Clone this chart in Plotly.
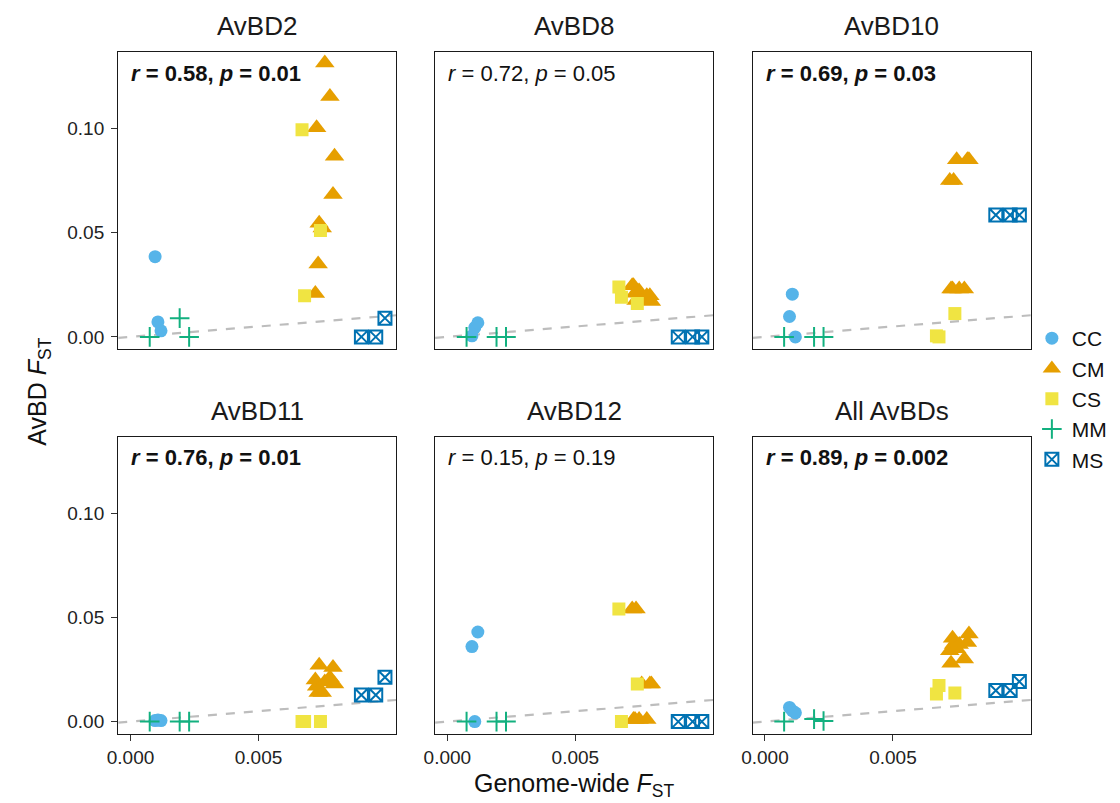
import plotly.graph_objects as go

# Panel names and correlation statistics
panels = ["AvBD2", "AvBD8", "AvBD10", "AvBD11", "AvBD12", "All AvBDs"]
corr_r = ["0.58", "0.72", "0.69", "0.76", "0.15", "0.89"]
corr_p = ["0.01", "0.05", "0.03", "0.01", "0.19", "0.002"]
significant = [True, False, True, True, False, True]

# Genome-wide FST of each population pair, grouped by comparison type
groups = ["CC", "CM", "CS", "MM", "MS"]
genome_fst = {
    "CC": [0.00096, 0.00107, 0.00119],
    "CM": [0.00722, 0.00727, 0.00733, 0.00737, 0.00749, 0.00759, 0.00779, 0.00791, 0.00797],
    "CS": [0.00670, 0.00680, 0.00742],
    "MM": [0.00075, 0.00192, 0.00229],
    "MS": [0.00902, 0.00958, 0.00994],
}

# AvBD FST per panel (same pair order as genome_fst)
avbd2 = {
    "CC": [0.0385, 0.0072, 0.0029],
    "CM": [0.0208, 0.1003, 0.0350, 0.0545, 0.0523, 0.1314, 0.1154, 0.0683, 0.0867],
    "CS": [0.0994, 0.0197, 0.0510],
    "MM": [0.0, 0.0090, 0.0],
    "MS": [0.0, 0.0, 0.0090],
}
avbd8 = {
    "CC": [0.0005, 0.0045, 0.0068],
    "CM": [0.0245, 0.0245, 0.0210, 0.0175, 0.0220, 0.0180, 0.0197, 0.0197, 0.0170],
    "CS": [0.0240, 0.0190, 0.0160],
    "MM": [0.0, 0.0, 0.0],
    "MS": [0.0, 0.0, 0.0],
}
avbd10 = {
    "CC": [0.0098, 0.0205, 0.0],
    "CM": [0.0750, 0.0230, 0.0230, 0.0750, 0.0850, 0.0230, 0.0230, 0.0850, 0.0850],
    "CS": [0.0005, 0.0, 0.0112],
    "MM": [0.0, 0.0, 0.0],
    "MS": [0.0585, 0.0585, 0.0585],
}
avbd11 = {
    "CC": [0.0005, 0.0008, 0.0005],
    "CM": [0.0200, 0.0170, 0.0140, 0.0270, 0.0140, 0.0190, 0.0210, 0.0260, 0.0180],
    "CS": [0.0, 0.0, 0.0],
    "MM": [0.0, 0.0, 0.0],
    "MS": [0.0128, 0.0128, 0.0213],
}
avbd12 = {
    "CC": [0.0360, 0.0, 0.0430],
    "CM": [0.0540, 0.0010, 0.0010, 0.0540, 0.0010, 0.0180, 0.0010, 0.0180, 0.0180],
    "CS": [0.0540, 0.0, 0.0180],
    "MM": [0.0, 0.0, 0.0],
    "MS": [0.0, 0.0, 0.0],
}
avbd_all = {
    "CC": [0.0068, 0.0052, 0.0042],
    "CM": [0.0340, 0.0280, 0.0400, 0.0370, 0.0350, 0.0370, 0.0300, 0.0380, 0.0420],
    "CS": [0.0133, 0.0173, 0.0137],
    "MM": [0.0, 0.0012, 0.0003],
    "MS": [0.0149, 0.0149, 0.0192],
}
panel_data = [avbd2, avbd8, avbd10, avbd11, avbd12, avbd_all]

x_ticks = [0.000, 0.005]
x_tick_text = ["0.000", "0.005"]
y_ticks = [0.00, 0.05, 0.10]
y_tick_text = ["0.00", "0.05", "0.10"]
x_range = [-0.00048, 0.01039]
y_range = [-0.0058, 0.1367]

FONT = "Liberation Sans, Arial, Helvetica, sans-serif"
W, H = 1120, 803

styles = {
    "CC": dict(symbol="circle", size=13, color="#56B4E9", line=dict(width=0)),
    "CM": dict(symbol="triangle-up", size=17, color="#E69F00", line=dict(width=0)),
    "CS": dict(symbol="square", size=13, color="#F0E442", line=dict(width=0)),
    "MM": dict(symbol="cross-thin", size=14, color="#12B07F",
               line=dict(width=2, color="#12B07F")),
    "MS": dict(symbol="square-x-open", size=13, color="#0072B2",
               line=dict(width=2, color="#0072B2")),
}

# panel geometry in pixels: column lefts, row tops
col_left = [108.3, 428.3, 749.0]
row_top = [52.0, 436.7]
panel_w, panel_h = 281.0, 297.0

fig = go.Figure()
layout = {}
annotations = []

for i, name in enumerate(panels):
    row, col = divmod(i, 3)
    ax = "" if i == 0 else str(i + 1)
    xd = [col_left[col] / W, (col_left[col] + panel_w) / W]
    yd = [1 - (row_top[row] + panel_h) / H, 1 - row_top[row] / H]
    bottom = row == 1
    left = col == 0
    layout["xaxis" + ax] = dict(
        domain=xd, range=x_range, anchor="y" + ax,
        showline=True, mirror=True, linecolor="#1a1a1a", linewidth=1.4,
        showgrid=False, zeroline=False,
        tickvals=x_ticks, ticktext=x_tick_text,
        ticks="outside" if bottom else "", ticklen=6, tickwidth=1.3, tickcolor="#333",
        showticklabels=bottom, tickfont=dict(size=19, color="#222", family=FONT),
    )
    layout["yaxis" + ax] = dict(
        domain=yd, range=y_range, anchor="x" + ax,
        showline=True, mirror=True, linecolor="#1a1a1a", linewidth=1.4,
        showgrid=False, zeroline=False,
        tickvals=y_ticks, ticktext=y_tick_text,
        ticks="outside" if left else "", ticklen=6, tickwidth=1.3, tickcolor="#333",
        showticklabels=left, tickfont=dict(size=19, color="#222", family=FONT),
        ticklabelstandoff=3,
    )

    # y = x reference line
    fig.add_trace(go.Scatter(
        x=x_range, y=x_range, mode="lines",
        line=dict(color="#BDBDBD", width=2.2, dash="dash"),
        xaxis="x" + ax, yaxis="y" + ax, showlegend=False, hoverinfo="skip",
    ))

    data = panel_data[i]
    for g in groups:
        fig.add_trace(go.Scatter(
            x=genome_fst[g], y=data[g], mode="markers", name=g,
            marker=styles[g], legendgroup=g, showlegend=(i == 0),
            xaxis="x" + ax, yaxis="y" + ax,
        ))

    # panel title
    annotations.append(dict(
        text=name, xref="paper", yref="paper",
        x=(col_left[col] + panel_w / 2) / W, y=1 - (row_top[row] - 26) / H,
        xanchor="center", yanchor="middle", showarrow=False,
        font=dict(size=26, color="#1a1a1a", family=FONT),
    ))

    # correlation label
    label = "<i>r</i> = %s, <i>p</i> = %s" % (corr_r[i], corr_p[i])
    if significant[i]:
        label = "<b>" + label + "</b>"
    annotations.append(dict(
        text=label, xref="paper", yref="paper",
        x=(col_left[col] + 11) / W, y=1 - (row_top[row] + 21) / H,
        xanchor="left", yanchor="middle", showarrow=False,
        font=dict(size=22, color="#111", family=FONT),
    ))

# shared axis titles
annotations.append(dict(
    text="Genome-wide <i>F</i><sub>ST</sub>", xref="paper", yref="paper",
    x=569 / W, y=1 - 785 / H, xanchor="center", yanchor="middle", showarrow=False,
    font=dict(size=25, color="#111", family=FONT),
))
annotations.append(dict(
    text="AvBD <i>F</i><sub>ST</sub>", xref="paper", yref="paper",
    x=28 / W, y=1 - 392 / H, xanchor="center", yanchor="middle", showarrow=False,
    textangle=-90, font=dict(size=25, color="#111", family=FONT),
))

fig.update_layout(
    **layout,
    annotations=annotations,
    width=W, height=H,
    margin=dict(l=0, r=0, t=0, b=0),
    paper_bgcolor="white", plot_bgcolor="white",
    font=dict(family=FONT, color="#111"),
    legend=dict(
        x=1031 / W, y=1 - 399 / H, xanchor="left", yanchor="middle",
        font=dict(size=21, family=FONT, color="#111"),
        bgcolor="rgba(0,0,0,0)", borderwidth=0, tracegroupgap=0,
    ),
)

fig.write_html("out.html")
